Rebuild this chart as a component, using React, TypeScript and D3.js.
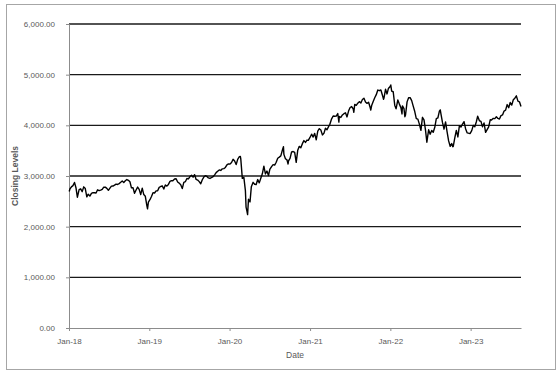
import React, { useEffect, useRef } from "react";
import * as d3 from "d3";

// weekly closes (approx.)
const closes2018 = [
  ["2018-01-02", 2695], ["2018-01-05", 2743], ["2018-01-12", 2786], ["2018-01-19", 2810], ["2018-01-26", 2873],
  ["2018-02-02", 2762], ["2018-02-08", 2581], ["2018-02-16", 2732], ["2018-02-23", 2747], ["2018-03-02", 2691],
  ["2018-03-09", 2786], ["2018-03-16", 2752], ["2018-03-23", 2588], ["2018-03-29", 2641], ["2018-04-06", 2604],
  ["2018-04-13", 2656], ["2018-04-20", 2670], ["2018-04-27", 2670], ["2018-05-04", 2663], ["2018-05-11", 2728],
  ["2018-05-18", 2712], ["2018-05-25", 2721], ["2018-06-01", 2735], ["2018-06-08", 2779], ["2018-06-15", 2780],
  ["2018-06-22", 2755], ["2018-06-29", 2718], ["2018-07-06", 2760], ["2018-07-13", 2801], ["2018-07-20", 2802],
  ["2018-07-27", 2819], ["2018-08-03", 2840], ["2018-08-10", 2833], ["2018-08-17", 2850], ["2018-08-24", 2875],
  ["2018-08-31", 2902], ["2018-09-07", 2872], ["2018-09-14", 2905], ["2018-09-21", 2930], ["2018-09-28", 2914],
  ["2018-10-05", 2886], ["2018-10-12", 2767], ["2018-10-19", 2768], ["2018-10-26", 2659], ["2018-11-02", 2723],
  ["2018-11-09", 2781], ["2018-11-16", 2736], ["2018-11-23", 2633], ["2018-11-30", 2760], ["2018-12-07", 2633],
  ["2018-12-14", 2600], ["2018-12-21", 2417], ["2018-12-24", 2351], ["2018-12-28", 2486],
];

const closes2019 = [
  ["2019-01-04", 2532], ["2019-01-11", 2596], ["2019-01-18", 2671], ["2019-01-25", 2665], ["2019-02-01", 2707],
  ["2019-02-08", 2708], ["2019-02-15", 2776], ["2019-02-22", 2793], ["2019-03-01", 2804], ["2019-03-08", 2743],
  ["2019-03-15", 2822], ["2019-03-22", 2801], ["2019-03-29", 2834], ["2019-04-05", 2893], ["2019-04-12", 2907],
  ["2019-04-18", 2905], ["2019-04-26", 2940], ["2019-05-03", 2946], ["2019-05-10", 2881], ["2019-05-17", 2860],
  ["2019-05-24", 2826], ["2019-05-31", 2752], ["2019-06-07", 2873], ["2019-06-14", 2887], ["2019-06-21", 2950],
  ["2019-06-28", 2942], ["2019-07-05", 2990], ["2019-07-12", 3014], ["2019-07-19", 2977], ["2019-07-26", 3026],
  ["2019-08-02", 2932], ["2019-08-09", 2919], ["2019-08-16", 2889], ["2019-08-23", 2847], ["2019-08-30", 2926],
  ["2019-09-06", 2979], ["2019-09-13", 3007], ["2019-09-20", 2992], ["2019-09-27", 2962], ["2019-10-04", 2952],
  ["2019-10-11", 2970], ["2019-10-18", 2986], ["2019-10-25", 3023], ["2019-11-01", 3067], ["2019-11-08", 3093],
  ["2019-11-15", 3120], ["2019-11-22", 3110], ["2019-11-29", 3141], ["2019-12-06", 3146], ["2019-12-13", 3169],
  ["2019-12-20", 3221], ["2019-12-27", 3240],
];

const closes2020 = [
  ["2020-01-03", 3235], ["2020-01-10", 3265], ["2020-01-17", 3330], ["2020-01-24", 3295], ["2020-01-31", 3226],
  ["2020-02-07", 3328], ["2020-02-14", 3380], ["2020-02-19", 3386], ["2020-02-21", 3338], ["2020-02-28", 2954],
  ["2020-03-06", 2972], ["2020-03-13", 2711], ["2020-03-16", 2386], ["2020-03-20", 2305], ["2020-03-23", 2237],
  ["2020-03-27", 2541], ["2020-04-03", 2489], ["2020-04-09", 2790], ["2020-04-17", 2875], ["2020-04-24", 2837],
  ["2020-05-01", 2831], ["2020-05-08", 2930], ["2020-05-15", 2864], ["2020-05-22", 2955], ["2020-05-29", 3044],
  ["2020-06-05", 3194], ["2020-06-12", 3041], ["2020-06-19", 3098], ["2020-06-26", 3009], ["2020-07-02", 3130],
  ["2020-07-10", 3185], ["2020-07-17", 3225], ["2020-07-24", 3216], ["2020-07-31", 3271], ["2020-08-07", 3351],
  ["2020-08-14", 3373], ["2020-08-21", 3397], ["2020-08-28", 3508], ["2020-09-02", 3580], ["2020-09-04", 3427],
  ["2020-09-11", 3341], ["2020-09-18", 3319], ["2020-09-23", 3237], ["2020-09-25", 3298], ["2020-10-02", 3348],
  ["2020-10-09", 3477], ["2020-10-16", 3484], ["2020-10-23", 3465], ["2020-10-30", 3270], ["2020-11-06", 3509],
  ["2020-11-13", 3585], ["2020-11-20", 3558], ["2020-11-27", 3638], ["2020-12-04", 3699], ["2020-12-11", 3663],
  ["2020-12-18", 3709], ["2020-12-24", 3703], ["2020-12-31", 3756],
];

const closes2021 = [
  ["2021-01-08", 3825], ["2021-01-15", 3768], ["2021-01-22", 3841], ["2021-01-29", 3714], ["2021-02-05", 3887],
  ["2021-02-12", 3934], ["2021-02-19", 3907], ["2021-02-26", 3811], ["2021-03-05", 3842], ["2021-03-12", 3943],
  ["2021-03-19", 3913], ["2021-03-26", 3975], ["2021-04-01", 4020], ["2021-04-09", 4129], ["2021-04-16", 4185],
  ["2021-04-23", 4180], ["2021-04-30", 4181], ["2021-05-07", 4233], ["2021-05-12", 4063], ["2021-05-14", 4174],
  ["2021-05-21", 4156], ["2021-05-28", 4204], ["2021-06-04", 4230], ["2021-06-11", 4247], ["2021-06-18", 4166],
  ["2021-06-25", 4281], ["2021-07-02", 4352], ["2021-07-09", 4370], ["2021-07-16", 4327], ["2021-07-19", 4258],
  ["2021-07-23", 4412], ["2021-07-30", 4395], ["2021-08-06", 4437], ["2021-08-13", 4468], ["2021-08-20", 4442],
  ["2021-08-27", 4509], ["2021-09-03", 4535], ["2021-09-10", 4459], ["2021-09-17", 4433], ["2021-09-24", 4455],
  ["2021-10-01", 4357], ["2021-10-04", 4300], ["2021-10-08", 4391], ["2021-10-15", 4471], ["2021-10-22", 4545],
  ["2021-10-29", 4605], ["2021-11-05", 4697], ["2021-11-12", 4683], ["2021-11-19", 4698], ["2021-11-26", 4595],
  ["2021-12-01", 4513], ["2021-12-03", 4538], ["2021-12-10", 4712], ["2021-12-17", 4620], ["2021-12-23", 4726],
  ["2021-12-31", 4766],
];

const closes2022 = [
  ["2022-01-03", 4796], ["2022-01-07", 4677], ["2022-01-14", 4663], ["2022-01-21", 4398], ["2022-01-27", 4327],
  ["2022-02-04", 4501], ["2022-02-11", 4419], ["2022-02-18", 4349], ["2022-02-23", 4225], ["2022-02-25", 4385],
  ["2022-03-04", 4329], ["2022-03-08", 4170], ["2022-03-11", 4204], ["2022-03-18", 4463], ["2022-03-25", 4543],
  ["2022-04-01", 4546], ["2022-04-08", 4488], ["2022-04-14", 4393], ["2022-04-22", 4272], ["2022-04-29", 4132],
  ["2022-05-06", 4123], ["2022-05-13", 4024], ["2022-05-20", 3901], ["2022-05-27", 4158], ["2022-06-03", 4109],
  ["2022-06-10", 3901], ["2022-06-16", 3667], ["2022-06-24", 3912], ["2022-07-01", 3825], ["2022-07-08", 3899],
  ["2022-07-15", 3863], ["2022-07-22", 3962], ["2022-07-29", 4130], ["2022-08-05", 4145], ["2022-08-12", 4280],
  ["2022-08-16", 4305], ["2022-08-19", 4228], ["2022-08-26", 4058], ["2022-09-02", 3924], ["2022-09-09", 4067],
  ["2022-09-16", 3873], ["2022-09-23", 3693], ["2022-09-30", 3586], ["2022-10-07", 3640], ["2022-10-12", 3577],
  ["2022-10-14", 3583], ["2022-10-21", 3752], ["2022-10-28", 3901], ["2022-11-04", 3771], ["2022-11-11", 3993],
  ["2022-11-18", 3965], ["2022-11-25", 4026], ["2022-12-02", 4072], ["2022-12-09", 3934], ["2022-12-16", 3852],
  ["2022-12-23", 3845], ["2022-12-30", 3840],
];

const closes2023 = [
  ["2023-01-06", 3895], ["2023-01-13", 3999], ["2023-01-20", 3973], ["2023-01-27", 4071], ["2023-02-02", 4180],
  ["2023-02-10", 4090], ["2023-02-17", 4079], ["2023-02-24", 3970], ["2023-03-03", 4046], ["2023-03-10", 3862],
  ["2023-03-17", 3917], ["2023-03-24", 3971], ["2023-03-31", 4109], ["2023-04-06", 4105], ["2023-04-14", 4138],
  ["2023-04-21", 4133], ["2023-04-28", 4169], ["2023-05-05", 4136], ["2023-05-12", 4124], ["2023-05-19", 4192],
  ["2023-05-26", 4205], ["2023-06-02", 4282], ["2023-06-09", 4299], ["2023-06-16", 4410], ["2023-06-23", 4348],
  ["2023-06-30", 4450], ["2023-07-07", 4399], ["2023-07-14", 4505], ["2023-07-21", 4536], ["2023-07-28", 4582],
  ["2023-08-04", 4478], ["2023-08-11", 4464], ["2023-08-18", 4370],
];

const yTicks = [0, 1000, 2000, 3000, 4000, 5000, 6000];
const xTicks = ["2018-01-01", "2019-01-01", "2020-01-01", "2021-01-01", "2022-01-01", "2023-01-01"];
const xDomain = ["2018-01-01", "2023-08-18"];

const ClosingLevelsChart = () => {
  const width = 560;
  const height = 373;
  const ref = useRef(null);
  const margin = { top: 24, right: 39, bottom: 45, left: 69 };

  useEffect(() => {
    const svg = d3.select(ref.current);
    svg.selectAll("*").remove();
    const parse = d3.timeParse("%Y-%m-%d");
    const data = [...closes2018, ...closes2019, ...closes2020, ...closes2021, ...closes2022, ...closes2023].map(
      (d) => ({ date: parse(d[0] as string), value: d[1] as number })
    );

    const xScale = d3
      .scaleTime()
      .domain(xDomain.map((d) => parse(d)))
      .range([margin.left, width - margin.right]);
    const yScale = d3
      .scaleLinear()
      .domain([0, 6000])
      .range([height - margin.bottom, margin.top]);

    const font = "'Liberation Sans', Arial, sans-serif";

    // outer chart border
    svg
      .append("rect")
      .attr("x", 6.5)
      .attr("y", 4.5)
      .attr("width", 549)
      .attr("height", 365)
      .attr("fill", "#fff")
      .attr("stroke", "#a6a6a6")
      .attr("stroke-width", 1);

    // gridlines
    svg
      .append("g")
      .selectAll("line")
      .data(yTicks.filter((d) => d > 0))
      .enter()
      .append("line")
      .attr("x1", margin.left)
      .attr("x2", width - margin.right)
      .attr("y1", (d) => yScale(d))
      .attr("y2", (d) => yScale(d))
      .attr("stroke", "#1a1a1a")
      .attr("stroke-width", 1.3);

    // y axis
    const yAxis = svg
      .append("g")
      .attr("transform", `translate(${margin.left},0)`)
      .call(
        d3
          .axisLeft(yScale)
          .tickValues(yTicks)
          .tickSize(3)
          .tickPadding(11)
          .tickFormat((d) => d3.format(",.2f")(d as number))
      );
    yAxis.select(".domain").attr("stroke", "#8c8c8c");
    yAxis.selectAll(".tick line").attr("stroke", "#8c8c8c");
    yAxis
      .selectAll("text")
      .attr("fill", "#595959")
      .style("font-family", font)
      .style("font-size", "8px");

    // x axis
    const xAxis = svg
      .append("g")
      .attr("transform", `translate(0,${height - margin.bottom})`)
      .call(
        d3
          .axisBottom(xScale)
          .tickValues(xTicks.map((d) => parse(d)))
          .tickSize(3)
          .tickSizeOuter(0)
          .tickPadding(7)
          .tickFormat((d) => d3.timeFormat("%b-%y")(d as Date))
      );
    xAxis.select(".domain").attr("stroke", "#8c8c8c");
    xAxis.selectAll(".tick line").attr("stroke", "#8c8c8c");
    xAxis
      .selectAll("text")
      .attr("fill", "#595959")
      .style("font-family", font)
      .style("font-size", "8px");

    // axis titles
    svg
      .append("text")
      .attr("x", (margin.left + width - margin.right) / 2)
      .attr("y", 358)
      .attr("text-anchor", "middle")
      .attr("fill", "#595959")
      .style("font-family", font)
      .style("font-size", "8.5px")
      .text("Date");

    svg
      .append("text")
      .attr("transform", `translate(18,${(margin.top + height - margin.bottom) / 2}) rotate(-90)`)
      .attr("text-anchor", "middle")
      .attr("fill", "#595959")
      .style("font-family", font)
      .style("font-size", "8.5px")
      .style("font-weight", "bold")
      .text("Closing Levels");

    const line = d3
      .line<{ date: Date; value: number }>()
      .x((d) => xScale(d.date))
      .y((d) => yScale(d.value));

    svg
      .append("path")
      .datum(data)
      .attr("fill", "none")
      .attr("stroke", "#000")
      .attr("stroke-width", 1.4)
      .attr("stroke-linejoin", "round")
      .attr("d", line);
  }, []);

  return (
    <svg
      ref={ref}
      width={width}
      height={height}
      style={{ position: "absolute", left: 0, top: 0 }}
    />
  );
};

export default function App() {
  return <ClosingLevelsChart />;
}
